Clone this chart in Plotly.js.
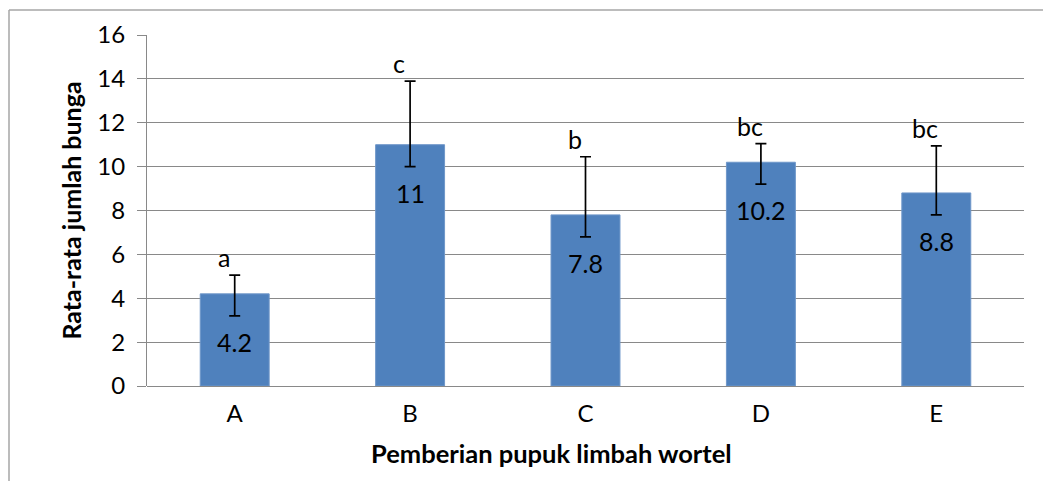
<!DOCTYPE html>
<html>
<head>
<meta charset="utf-8">
<script src="https://cdn.plot.ly/plotly-3.0.1.min.js"></script>
<style>
  html, body { margin: 0; padding: 0; background: #ffffff; }
  #chart { width: 1043px; height: 481px; }
</style>
</head>
<body>
<div id="chart"></div>
<script>
// Data
const categories = ["A", "B", "C", "D", "E"];
const means = [4.2, 11, 7.8, 10.2, 8.8];
const errPlus = [0.85, 2.9, 2.65, 0.85, 2.15];
const errMinus = [1.0, 1.0, 1.0, 1.0, 1.0];
const letters = ["a", "c", "b", "bc", "bc"];
const yTicks = [0, 2, 4, 6, 8, 10, 12, 14, 16];

const FONT = "Lato, 'Open Sans', 'DejaVu Sans', sans-serif";
const GRID = "#898989";

const trace = {
  type: "bar",
  x: categories,
  y: means,
  marker: { color: "#4f81bd", line: { color: "#6f97c9", width: 1 } },
  error_y: {
    type: "data",
    symmetric: false,
    array: errPlus,
    arrayminus: errMinus,
    color: "#000000",
    thickness: 1.7,
    width: 5.5
  },
  hoverinfo: "none"
};

const annotations = [];
categories.forEach((c, i) => {
  annotations.push({
    x: c, y: means[i] + errPlus[i], xref: "x", yref: "y",
    text: letters[i], showarrow: false,
    xanchor: "center", yanchor: "bottom", xshift: -11, yshift: 1,
    font: { family: FONT, size: 25, color: "#000000" }
  });
  annotations.push({
    x: c, y: means[i], xref: "x", yref: "y",
    text: String(means[i]), showarrow: false,
    xanchor: "center", yanchor: "middle", yshift: -48,
    font: { family: FONT, size: 25, color: "#000000" }
  });
});
annotations.push({
  x: (551 - 147) / 877, y: 0, xref: "paper", yref: "paper",
  yanchor: "middle", xanchor: "center", yshift: -67,
  text: "<b>Pemberian pupuk limbah wortel</b>", showarrow: false,
  font: { family: FONT, size: 25.5, color: "#000000" }
});

const layout = {
  width: 1043,
  height: 481,
  margin: { l: 147, r: 19, t: 35, b: 95 },
  paper_bgcolor: "#ffffff",
  plot_bgcolor: "#ffffff",
  showlegend: false,
  bargap: 0.607,
  font: { family: FONT, size: 24, color: "#000000" },
  xaxis: {
    type: "category",
    showgrid: false,
    showline: false,
    zeroline: false,
    ticks: "",
    tickfont: { family: FONT, size: 24, color: "#000000" },
    ticklabelstandoff: 11
  },
  yaxis: {
    range: [0, 16],
    tickvals: yTicks,
    ticktext: yTicks.map(String),
    showgrid: true,
    gridcolor: GRID,
    gridwidth: 1,
    zeroline: true,
    zerolinecolor: GRID,
    zerolinewidth: 1,
    showline: true,
    linecolor: GRID,
    linewidth: 1,
    ticks: "outside",
    ticklen: 9,
    tickcolor: GRID,
    tickwidth: 1,
    tickfont: { family: FONT, size: 24, color: "#000000" },
    ticklabelstandoff: 7,
    title: {
      text: "<b>Rata-rata jumlah bunga</b>",
      font: { family: FONT, size: 25, color: "#000000" },
      standoff: 8
    }
  },
  annotations: annotations,
  shapes: [
    { type: "line", xref: "paper", yref: "paper",
      x0: (9 - 147) / 877, x1: (1043 - 147) / 877,
      y0: (386 - 10) / 351, y1: (386 - 10) / 351,
      line: { color: "#a6a6a6", width: 1.5 } },
    { type: "line", xref: "paper", yref: "paper",
      x0: (9 - 147) / 877, x1: (9 - 147) / 877,
      y0: (386 - 10) / 351, y1: (386 - 485) / 351,
      line: { color: "#a6a6a6", width: 1.5 } }
  ]
};

Plotly.newPlot("chart", [trace], layout, { staticPlot: true, displayModeBar: false });
</script>
</body>
</html>
